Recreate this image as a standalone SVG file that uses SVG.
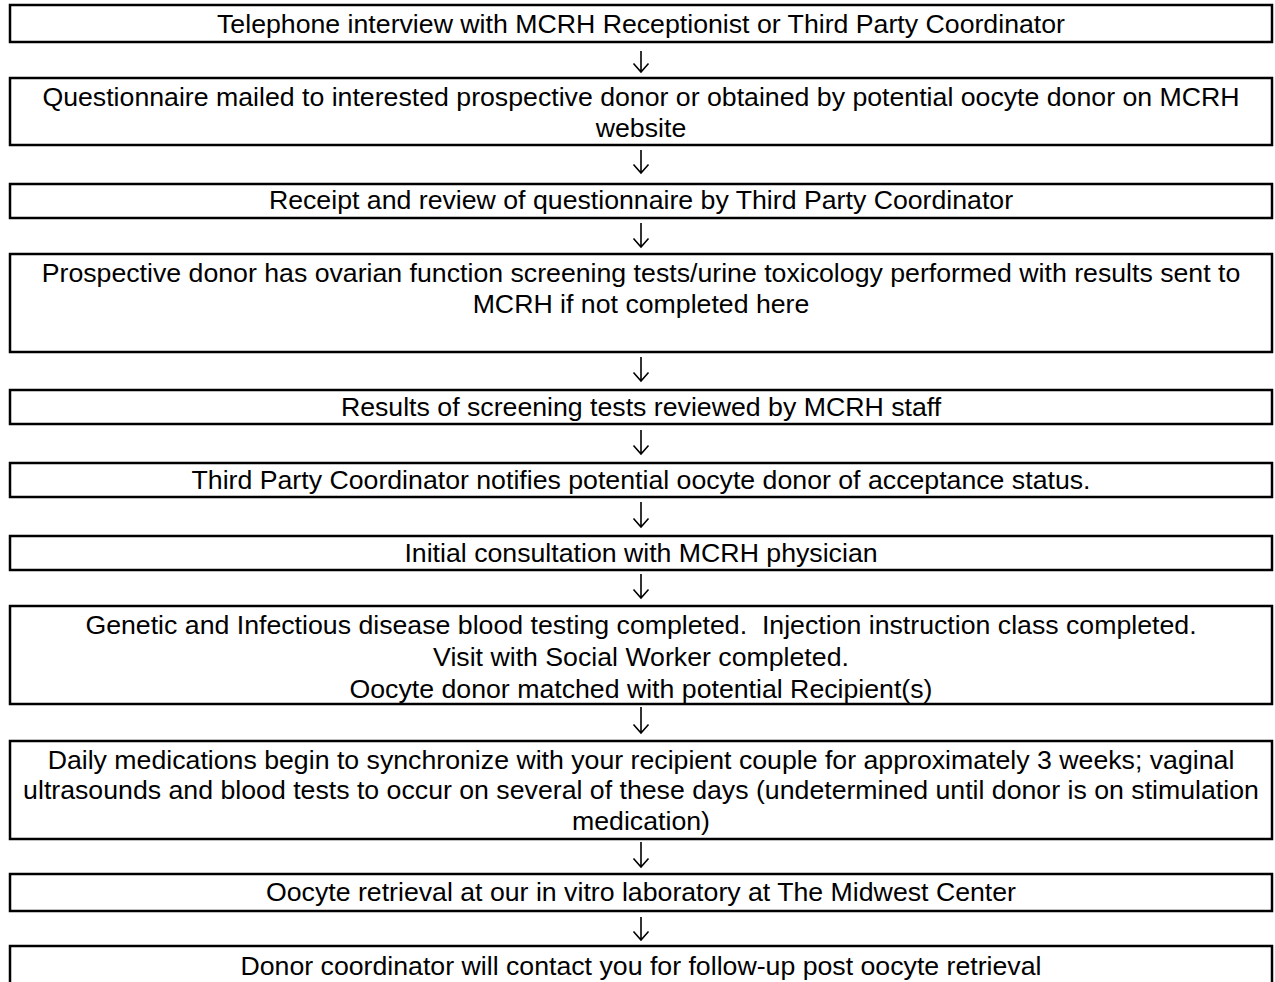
<svg xmlns="http://www.w3.org/2000/svg" width="1275" height="982" viewBox="0 0 1275 982">
<style>
.box{fill:#fff;stroke:#000;stroke-width:2.5}
.t{font-family:"Liberation Sans",Arial,sans-serif;font-size:26.7px;fill:#000;text-anchor:middle}
.c{fill:none;stroke:#000;stroke-width:1.6;stroke-linecap:butt;stroke-linejoin:miter}
</style>
<rect width="1275" height="982" fill="#fff"/>
<g id="connectors" class="c">
<path d="M641 51V72M633.5 63.5L641 72L648.5 63.5"/>
<path d="M641 150V173M633.5 164.5L641 173L648.5 164.5"/>
<path d="M641 223V247M633.5 238.5L641 247L648.5 238.5"/>
<path d="M641 357V381M633.5 372.5L641 381L648.5 372.5"/>
<path d="M641 430V454M633.5 445.5L641 454L648.5 445.5"/>
<path d="M641 502V527M633.5 518.5L641 527L648.5 518.5"/>
<path d="M641 574V598M633.5 589.5L641 598L648.5 589.5"/>
<path d="M641 707V733M633.5 724.5L641 733L648.5 724.5"/>
<path d="M641 842V867M633.5 858.5L641 867L648.5 858.5"/>
<path d="M641 917V940M633.5 931.5L641 940L648.5 931.5"/>
</g>
<g id="n1"><rect class="box" x="10" y="5" width="1262" height="37"/><text class="t" x="641" y="33">Telephone interview with MCRH Receptionist or Third Party Coordinator</text></g>
<g id="n2"><rect class="box" x="10" y="78" width="1262" height="67"/><text class="t" x="641" y="106">Questionnaire mailed to interested prospective donor or obtained by potential oocyte donor on MCRH</text><text class="t" x="641" y="137">website</text></g>
<g id="n3"><rect class="box" x="10" y="184" width="1262" height="34"/><text class="t" x="641" y="209">Receipt and review of questionnaire by Third Party Coordinator</text></g>
<g id="n4"><rect class="box" x="10" y="254" width="1262" height="98"/><text class="t" x="641" y="282">Prospective donor has ovarian function screening tests/urine toxicology performed with results sent to</text><text class="t" x="641" y="313">MCRH if not completed here</text></g>
<g id="n5"><rect class="box" x="10" y="390" width="1262" height="34"/><text class="t" x="641" y="416">Results of screening tests reviewed by MCRH staff</text></g>
<g id="n6"><rect class="box" x="10" y="463" width="1262" height="34"/><text class="t" x="641" y="489">Third Party Coordinator notifies potential oocyte donor of acceptance status.</text></g>
<g id="n7"><rect class="box" x="10" y="536" width="1262" height="34"/><text class="t" x="641" y="562">Initial consultation with MCRH physician</text></g>
<g id="n8"><rect class="box" x="10" y="606" width="1262" height="98"/><text class="t" x="641" y="634" xml:space="preserve">Genetic and Infectious disease blood testing completed.  Injection instruction class completed.</text><text class="t" x="641" y="666">Visit with Social Worker completed.</text><text class="t" x="641" y="698">Oocyte donor matched with potential Recipient(s)</text></g>
<g id="n9"><rect class="box" x="10" y="741" width="1262" height="98"/><text class="t" x="641" y="769">Daily medications begin to synchronize with your recipient couple for approximately 3 weeks; vaginal</text><text class="t" x="641" y="799">ultrasounds and blood tests to occur on several of these days (undetermined until donor is on stimulation</text><text class="t" x="641" y="830">medication)</text></g>
<g id="n10"><rect class="box" x="10" y="874" width="1262" height="37"/><text class="t" x="641" y="901">Oocyte retrieval at our in vitro laboratory at The Midwest Center</text></g>
<g id="n11"><rect class="box" x="10" y="946" width="1262" height="50"/><text class="t" x="641" y="975">Donor coordinator will contact you for follow-up post oocyte retrieval</text></g>
</svg>
